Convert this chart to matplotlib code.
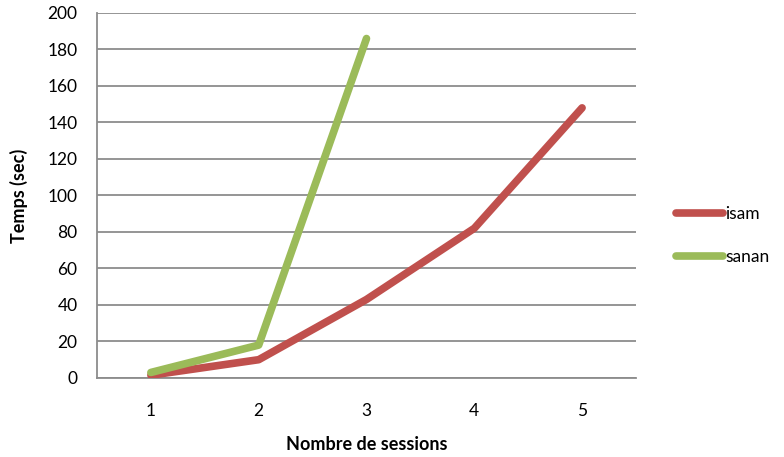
import matplotlib.pyplot as plt

plt.rcParams['font.family'] = ['Lato', 'DejaVu Sans']

sessions = [1, 2, 3, 4, 5]
isam = [1.5, 10, 43, 82, 148]
sanan = [3, 18, 186]

RED = "#C0504D"
GREEN = "#9BBB59"
GRID = "#8C8C8C"

fig = plt.figure(figsize=(7.84, 4.57), dpi=100)
ax = fig.add_axes([0.1237, 0.173, 0.6875, 0.7986])

ax.plot(sessions, isam, color=RED, lw=5.5, solid_capstyle="round",
        solid_joinstyle="round", label="isam", zorder=3)
ax.plot(sessions[:len(sanan)], sanan, color=GREEN, lw=5.5, solid_capstyle="round",
        solid_joinstyle="round", label="sanan", zorder=4)

ax.set_xlim(0.5, 5.5)
ax.set_ylim(0, 200)
ax.set_xticks(sessions)
ax.set_yticks(range(0, 201, 20))
ax.tick_params(length=0, labelsize=12.5, colors="black")
ax.tick_params(axis="x", pad=18)
ax.tick_params(axis="y", pad=14)

ax.grid(axis="y", color=GRID, lw=1.3)
ax.set_axisbelow(True)
for side in ("top", "right"):
    ax.spines[side].set_visible(False)
for side in ("left", "bottom"):
    ax.spines[side].set_color(GRID)
    ax.spines[side].set_linewidth(1.3)

ax.set_ylabel("Temps (sec)", fontsize=13, fontweight="bold", labelpad=14)
ax.set_xlabel("Nombre de sessions", fontsize=13, fontweight="bold", labelpad=12)

# legend sits to the right of the plot area, in figure coordinates
leg = ax.legend(loc="center left", bbox_to_anchor=(0.862, 0.485),
                bbox_transform=fig.transFigure, frameon=False,
                fontsize=12.5, handlelength=2.7, handletextpad=0.15,
                labelspacing=1.55, borderpad=0, borderaxespad=0)
for h in leg.get_lines():
    h.set_solid_capstyle("round")

fig.savefig("out.png", dpi=100)
